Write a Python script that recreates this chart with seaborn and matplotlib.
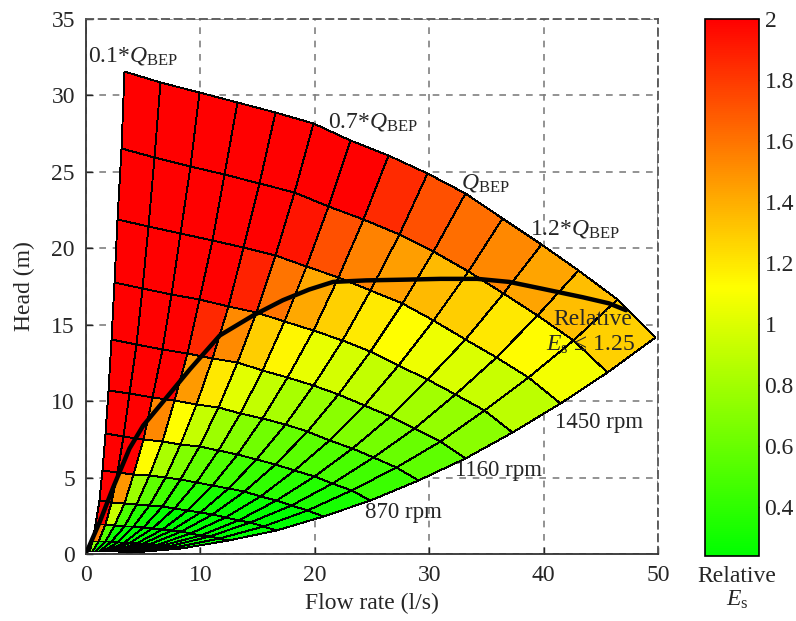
import numpy as np
import matplotlib
matplotlib.use("Agg")
import matplotlib.pyplot as plt
import seaborn as sns
from matplotlib.colors import LinearSegmentedColormap, Normalize
from matplotlib.ticker import FormatStrFormatter

# ---------------- data ----------------
flow_fraction = [0.1, 0.2, 0.3, 0.4, 0.5, 0.6, 0.7, 0.8, 0.9, 1.0, 1.1, 1.2, 1.3, 1.4, 1.5]
speed_rpm = [145, 290, 435, 580, 725, 870, 1015, 1160, 1305, 1450, 1595, 1740]
# pump curve at the highest speed
q_top = [3.3, 6.5, 9.9, 13.2, 16.5, 19.8, 23.1, 26.4, 29.8, 33.1, 36.4, 39.8, 43.0, 46.4, 49.7]
h_top = [31.6, 30.9, 30.2, 29.6, 28.9, 28.2, 27.1, 26.1, 24.9, 23.6, 22.0, 20.3, 18.6, 16.7, 14.2]
# relative Es of each cell, rows from the highest speed band down to the lowest
es_cells = [
    [25.0, 8.50, 4.50, 3.30, 2.70, 2.30, 2.05, 1.85, 1.72, 1.62, 1.53, 1.43, 1.34, 1.28],
    [21.0, 7.14, 3.78, 2.77, 2.27, 1.93, 1.72, 1.55, 1.45, 1.36, 1.29, 1.20, 1.13, 1.08],
    [17.4, 5.90, 3.13, 2.29, 1.88, 1.60, 1.42, 1.28, 1.19, 1.12, 1.06, 0.99, 0.93, 0.89],
    [14.1, 4.78, 2.53, 1.86, 1.52, 1.29, 1.15, 1.04, 0.97, 0.91, 0.86, 0.80, 0.75, 0.72],
    [11.1, 3.78, 2.00, 1.47, 1.20, 1.02, 0.91, 0.82, 0.76, 0.72, 0.68, 0.64, 0.60, 0.57],
    [8.51, 2.89, 1.53, 1.12, 0.92, 0.78, 0.70, 0.63, 0.59, 0.55, 0.52, 0.49, 0.46, 0.44],
    [6.25, 2.13, 1.13, 0.83, 0.68, 0.58, 0.51, 0.46, 0.43, 0.41, 0.38, 0.36, 0.34, 0.32],
    [4.34, 1.48, 0.78, 0.57, 0.47, 0.40, 0.36, 0.32, 0.30, 0.28, 0.27, 0.25, 0.23, 0.22],
    [2.78, 0.94, 0.50, 0.37, 0.30, 0.26, 0.23, 0.21, 0.19, 0.18, 0.17, 0.16, 0.15, 0.14],
    [1.56, 0.53, 0.28, 0.21, 0.17, 0.14, 0.13, 0.12, 0.11, 0.10, 0.10, 0.09, 0.08, 0.08],
    [0.69, 0.24, 0.13, 0.09, 0.08, 0.06, 0.06, 0.05, 0.05, 0.05, 0.04, 0.04, 0.04, 0.04],
]
# Relative Es = 1.25 limit curve
limit_q = [0.1, 1.2, 2.4, 3.8, 5.0, 7.0, 9.1, 11.7, 14.6, 17.2, 19.5, 21.6, 24.5, 28.0,
           31.0, 34.2, 37.0, 39.9, 43.4, 45.7, 47.2]
limit_h = [0.2, 2.1, 4.4, 6.9, 8.4, 10.2, 12.1, 14.3, 15.6, 16.6, 17.3, 17.8, 17.9, 17.95,
           18.0, 18.0, 17.8, 17.35, 16.8, 16.4, 15.95]

x_ticks = [0, 10, 20, 30, 40, 50]
y_ticks = [0, 5, 10, 15, 20, 25, 30, 35]
cb_ticks = [0.4, 0.6, 0.8, 1.0, 1.2, 1.4, 1.6, 1.8, 2.0]

# ---------------- style ----------------
sns.set_style("white")
plt.rcParams["font.family"] = ["Liberation Serif", "DejaVu Serif"]
plt.rcParams["mathtext.fontset"] = "custom"
plt.rcParams["mathtext.rm"] = "Liberation Serif"
plt.rcParams["mathtext.it"] = "Liberation Serif:italic"
plt.rcParams["font.size"] = 17

fig = plt.figure(figsize=(7.96, 6.21), dpi=100)
W, H = 796, 621
ax = fig.add_axes([86 / W, 1 - 554 / H, (658 - 86) / W, (554 - 19) / H])
cax = fig.add_axes([705 / W, 1 - 556 / H, 54 / W, (556 - 19) / H])

cmap = LinearSegmentedColormap.from_list("gyr", [(0, 1, 0), (1, 1, 0), (1, 0, 0)], N=256)
norm = Normalize(vmin=0.24, vmax=2.0)

# mesh from affinity laws: Q ~ n, H ~ n^2
s = np.array(speed_rpm, dtype=float) / max(speed_rpm)
X = np.outer(s, q_top)
Y = np.outer(s ** 2, h_top)
C = np.array(es_cells)[::-1]

ax.grid(True, color="#808080", linestyle=(0, (4, 4)), linewidth=1.2)
ax.set_axisbelow(True)
mesh = ax.pcolormesh(X, Y, C, cmap=cmap, norm=norm, shading="flat",
                     edgecolors="black", linewidth=0.65, zorder=2)

sns.lineplot(x=limit_q, y=limit_h, sort=False, color="black", linewidth=3.2,
             ax=ax, zorder=4, estimator=None)

ax.set_xlim(0, 50)
ax.set_ylim(0, 35)
ax.set_xticks(x_ticks)
ax.set_yticks(y_ticks)
ax.tick_params(direction="in", length=5, width=1, labelsize=17, pad=8,
               left=True, bottom=True, top=False, right=False)
for side in ["top", "right", "left", "bottom"]:
    ax.spines[side].set_color("#555555")
    ax.spines[side].set_linestyle((0, (4, 3)))
    ax.spines[side].set_linewidth(1.3)
ax.spines["left"].set_linestyle("-")
ax.spines["bottom"].set_linestyle("-")
ax.spines["left"].set_color("#333333")
ax.spines["bottom"].set_color("#333333")

ax.set_xlabel("Flow rate (l/s)", fontsize=17, labelpad=5)
ax.set_ylabel("Head (m)", fontsize=17, labelpad=12)

fs = 17
ax.text(0.17, 32.2, r"0.1*$Q_{\mathrm{BEP}}$", fontsize=fs, va="baseline", ha="left", zorder=5)
ax.text(21.15, 27.9, r"0.7*$Q_{\mathrm{BEP}}$", fontsize=fs, va="baseline", ha="left", zorder=5)
ax.text(32.8, 23.9, r"$Q_{\mathrm{BEP}}$", fontsize=fs, va="baseline", ha="left", zorder=5)
ax.text(38.8, 20.9, r"1.2*$Q_{\mathrm{BEP}}$", fontsize=fs, va="baseline", ha="left", zorder=5)
ax.text(44.3, 15.0, "Relative", fontsize=fs, va="baseline", ha="center", zorder=5)
ax.text(44.1, 13.3, r"$E_{\mathrm{s}}$ ≤ 1.25", fontsize=fs, va="baseline", ha="center", zorder=5)
ax.text(41.0, 8.26, "1450 rpm", fontsize=16.5, va="baseline", ha="left", zorder=5)
ax.text(32.25, 5.1, "1160 rpm", fontsize=16.5, va="baseline", ha="left", zorder=5)
ax.text(24.4, 2.35, "870 rpm", fontsize=16.5, va="baseline", ha="left", zorder=5)

cb = fig.colorbar(mesh, cax=cax, ticks=cb_ticks)
cb.ax.yaxis.set_major_formatter(FormatStrFormatter("%g"))
cb.ax.tick_params(direction="in", length=5, width=1, left=True, right=True,
                  labelsize=17, pad=4)
cb.outline.set_linewidth(1.2)
cb.outline.set_edgecolor("black")
fig.text(737 / W, 1 - 582 / H, "Relative", fontsize=17, ha="center", va="baseline")
fig.text(737 / W, 1 - 606 / H, r"$E_{\mathrm{s}}$", fontsize=17, ha="center", va="baseline")

fig.savefig("out.png", dpi=100)
